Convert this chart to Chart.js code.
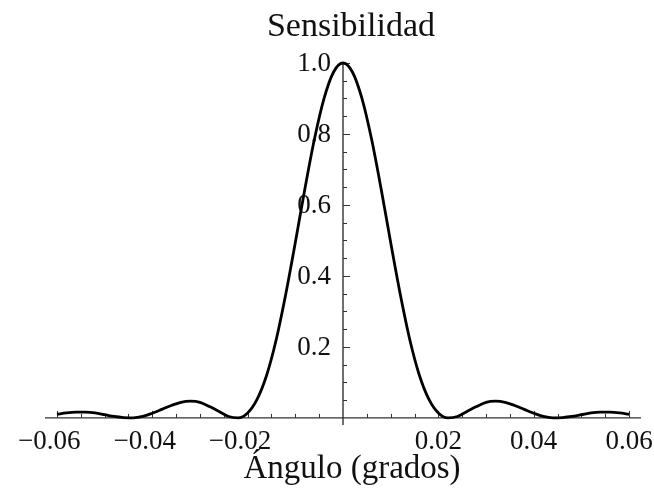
<!DOCTYPE html>
<html>
<head>
<meta charset="utf-8">
<script src="https://cdn.jsdelivr.net/npm/chart.js@4.4.1/dist/chart.umd.min.js"></script>
<style>
  body { margin: 0; background: #fff; }
  #wrap { width: 654px; height: 495px; }
</style>
</head>
<body>
<div id="wrap"><canvas id="sensChart" width="654" height="495"></canvas></div>
<script>
// Data
const angles = [
  -0.060, -0.058, -0.056, -0.054, -0.052, -0.050, -0.048, -0.046, -0.044, -0.042,
  -0.040, -0.038, -0.036, -0.034, -0.032, -0.030, -0.028, -0.026, -0.024, -0.022,
  -0.020, -0.018, -0.016, -0.014, -0.012, -0.010, -0.008, -0.006, -0.004, -0.002,
  0.000,
  0.002, 0.004, 0.006, 0.008, 0.010, 0.012, 0.014, 0.016, 0.018, 0.020,
  0.022, 0.024, 0.026, 0.028, 0.030, 0.032, 0.034, 0.036, 0.038, 0.040,
  0.042, 0.044, 0.046, 0.048, 0.050, 0.052, 0.054, 0.056, 0.058, 0.060
];
const sensitivity = [
  0.010, 0.014, 0.016, 0.016, 0.014, 0.009, 0.004, 0.001, 0.000, 0.004,
  0.013, 0.024, 0.035, 0.044, 0.047, 0.044, 0.032, 0.018, 0.004, 0.000,
  0.014, 0.053, 0.121, 0.221, 0.349, 0.494, 0.645, 0.785, 0.899, 0.974,
  1.000,
  0.974, 0.899, 0.785, 0.645, 0.494, 0.349, 0.221, 0.121, 0.053, 0.014,
  0.000, 0.004, 0.018, 0.032, 0.044, 0.047, 0.044, 0.035, 0.024, 0.013,
  0.004, 0.000, 0.001, 0.004, 0.009, 0.014, 0.016, 0.016, 0.014, 0.010
];
const xTicks = [-0.06, -0.04, -0.02, 0.02, 0.04, 0.06];
const xTickLabels = ['0.06', '0.04', '0.02', '0.02', '0.04', '0.06'];
const yTicks = [0.2, 0.4, 0.6, 0.8, 1.0];
const yTickLabels = ['0.2', '0.4', '0.6', '0.8', '1.0'];
const chartTitle = 'Sensibilidad';
const xAxisTitle = 'Ángulo (grados)';

const points = angles.map((a, i) => ({ x: a, y: sensitivity[i] }));

// Draws the crossing axes, ticks, labels and titles in Mathematica style
const axesPlugin = {
  id: 'crossAxes',
  beforeDatasetsDraw(chart) {
    const ctx = chart.ctx;
    const xs = chart.scales.x;
    const ys = chart.scales.y;
    const x0 = xs.getPixelForValue(0);
    const y0 = ys.getPixelForValue(0);
    ctx.save();

    // axis lines
    ctx.strokeStyle = '#333';
    ctx.lineWidth = 1.4;
    ctx.beginPath();
    ctx.moveTo(xs.getPixelForValue(-0.0625), y0);
    ctx.lineTo(xs.getPixelForValue(0.0625), y0);
    ctx.moveTo(x0, ys.getPixelForValue(-0.02));
    ctx.lineTo(x0, ys.getPixelForValue(1.0));
    ctx.stroke();

    // x ticks (minor every 0.005, major every 0.02)
    ctx.lineWidth = 1;
    ctx.beginPath();
    for (let k = -12; k <= 12; k++) {
      if (k === 0) continue;
      const px = Math.round(xs.getPixelForValue(k * 0.005)) + 0.5;
      const len = (k % 4 === 0) ? 7 : 4;
      ctx.moveTo(px, y0);
      ctx.lineTo(px, y0 - len);
    }
    // y ticks (minor every 0.05, major every 0.2)
    for (let k = 1; k <= 20; k++) {
      const py = Math.round(ys.getPixelForValue(k * 0.05)) + 0.5;
      const len = (k % 4 === 0) ? 7 : 4;
      ctx.moveTo(x0, py);
      ctx.lineTo(x0 + len, py);
    }
    ctx.stroke();

    // tick labels
    ctx.fillStyle = '#111';
    ctx.font = '27px "Liberation Serif", "DejaVu Serif", serif';
    ctx.textBaseline = 'alphabetic';
    xTicks.forEach((v, i) => {
      const px = xs.getPixelForValue(v);
      const txt = xTickLabels[i];
      const w = ctx.measureText(txt).width;
      ctx.textAlign = 'left';
      ctx.fillText(txt, px - w / 2, 449);
      if (v < 0) {
        ctx.textAlign = 'right';
        ctx.fillText('\u2212', px - w / 2, 449);
      }
    });
    ctx.textAlign = 'right';
    ctx.textBaseline = 'middle';
    yTicks.forEach((v, i) => {
      ctx.fillText(yTickLabels[i], x0 - 12, ys.getPixelForValue(v) + 1);
    });

    // titles
    ctx.textAlign = 'center';
    ctx.textBaseline = 'alphabetic';
    ctx.font = '34px "Liberation Serif", "DejaVu Serif", serif';
    ctx.fillText(chartTitle, 351, 36);
    ctx.font = '33px "Liberation Serif", "DejaVu Serif", serif';
    ctx.fillText(xAxisTitle, 352, 478);

    ctx.restore();
  }
};

new Chart(document.getElementById('sensChart'), {
  type: 'line',
  data: {
    datasets: [{
      label: chartTitle,
      data: points,
      borderColor: '#000',
      borderWidth: 2.8,
      pointRadius: 0,
      cubicInterpolationMode: 'monotone',
      fill: false,
      clip: false
    }]
  },
  options: {
    responsive: false,
    animation: false,
    layout: { padding: { left: 45, right: 13, top: 63, bottom: 70 } },
    plugins: {
      legend: { display: false },
      tooltip: { enabled: false }
    },
    scales: {
      x: { type: 'linear', min: -0.0625, max: 0.0625, display: false },
      y: { type: 'linear', min: -0.02, max: 1.0, display: false }
    }
  },
  plugins: [axesPlugin]
});
</script>
</body>
</html>
